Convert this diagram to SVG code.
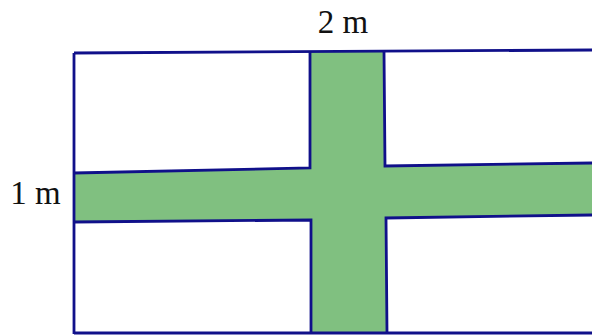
<svg xmlns="http://www.w3.org/2000/svg" width="592" height="335" viewBox="0 0 592 335">
<style>
.ln{fill:none;stroke:#10108a;stroke-width:2.8;stroke-linejoin:miter}
.lbl{font-family:"Liberation Serif","Times New Roman",serif;font-size:33px;fill:#111}
</style>
<rect width="592" height="335" fill="#fff"/>
<g id="cross">
<polygon fill="#80c080" points="310,52 384,51 385,166 592,163 592,215 386,218 387,333 311,333 311,220 74,222 74,173 310,168"/>
</g>
<g id="outline">
<path class="ln" d="M74,53 L592,50"/>
<path class="ln" d="M74,53 L74,334"/>
<path class="ln" d="M74,333 L592,333"/>
<path class="ln" d="M74,173 L310,168 L310,52"/>
<path class="ln" d="M74,222 L311,220 L311,333"/>
<path class="ln" d="M384,51 L385,166 L592,163"/>
<path class="ln" d="M592,215 L386,218 L387,333"/>
</g>
<g id="labels">
<text class="lbl" x="343" y="33" text-anchor="middle">2 m</text>
<text class="lbl" x="35.5" y="204" text-anchor="middle">1 m</text>
</g>
</svg>
